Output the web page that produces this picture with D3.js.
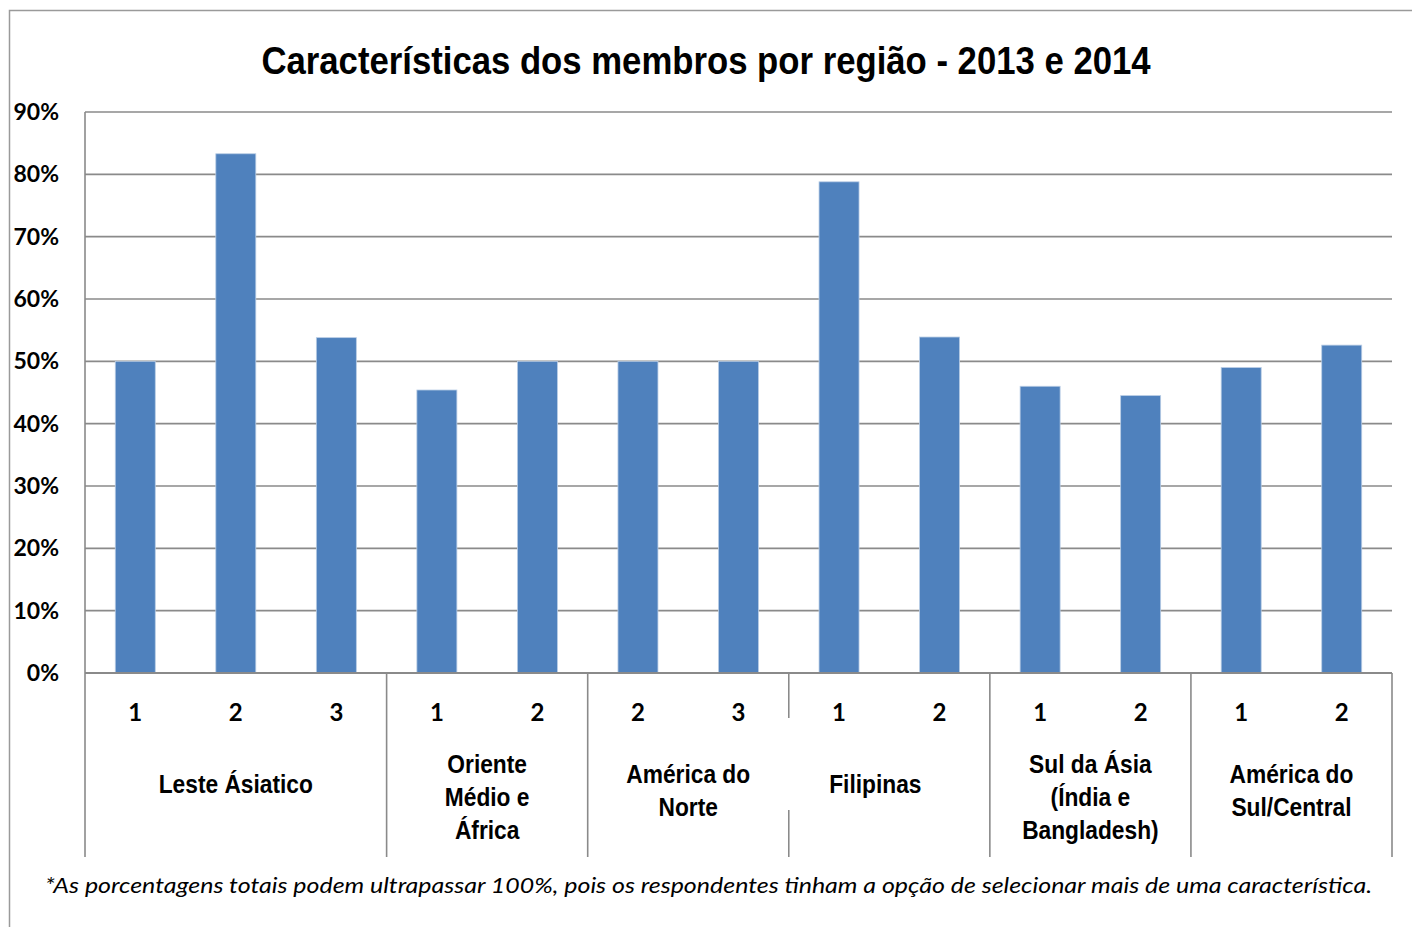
<!DOCTYPE html>
<html>
<head>
<meta charset="utf-8">
<script src="https://cdn.jsdelivr.net/npm/d3@7"></script>
<style>
  html, body { margin: 0; padding: 0; background: #fff; }
  svg { display: block; }
  .narrow { font-family: "Liberation Sans Narrow", "Arial Narrow", "Liberation Sans", sans-serif; font-weight: bold; }
  .cal { font-family: Lato, "Open Sans", sans-serif; font-weight: bold; }
</style>
</head>
<body>
<svg id="chart" width="1412" height="927"></svg>
<script>
// ---- data ----
const title = "Características dos membros por região - 2013 e 2014";
const categories = ["1", "2", "3", "1", "2", "2", "3", "1", "2", "1", "2", "1", "2"];
const values = [50.0, 83.3, 53.8, 45.4, 50.0, 50.0, 50.0, 78.8, 53.9, 46.0, 44.5, 49.0, 52.6];
const groupLabels = [
  ["Leste Ásiatico"],
  ["Oriente", "Médio e", "África"],
  ["América do", "Norte"],
  ["Filipinas"],
  ["Sul da Ásia", "(Índia e", "Bangladesh)"],
  ["América do", "Sul/Central"]
];
const groupSizes = [3, 2, 2, 2, 2, 2];
const yTicks = [0, 10, 20, 30, 40, 50, 60, 70, 80, 90];
const footnote = "*As porcentagens totais podem ultrapassar 100%, pois os respondentes tinham a opção de selecionar mais de uma característica.";

// ---- layout ----
const svg = d3.select("#chart");
const L = 85, R = 1392, T = 112, B = 673, axisBottom = 857;
const gridColor = "#8a8a8a";

const x = d3.scaleBand()
  .domain(d3.range(categories.length))
  .range([L, R])
  .paddingInner(1 - 40 / ((R - L) / categories.length))
  .paddingOuter((1 - 40 / ((R - L) / categories.length)) / 2);
const y = d3.scaleLinear().domain([0, 90]).range([B, T]);

// outer frame
svg.append("path")
  .attr("d", "M9.5,927 L9.5,10.5 L1412,10.5")
  .attr("fill", "none").attr("stroke", "#9a9a9a").attr("stroke-width", 1.5);

// title (condensed)
svg.append("g").attr("transform", "translate(706,74) scale(0.89,1)")
  .append("text").attr("class", "narrow")
  .attr("x", 0).attr("y", 0)
  .attr("text-anchor", "middle")
  .attr("font-size", 39)
  .attr("fill", "#000")
  .text(title);

// gridlines
svg.append("g").selectAll("line").data(yTicks).join("line")
  .attr("x1", L).attr("x2", R)
  .attr("y1", d => y(d)).attr("y2", d => y(d))
  .attr("stroke", gridColor).attr("stroke-width", 1.6);

// y axis line
svg.append("line").attr("x1", L).attr("x2", L).attr("y1", T).attr("y2", B)
  .attr("stroke", gridColor).attr("stroke-width", 1.6);

// y tick labels
svg.append("g").selectAll("text").data(yTicks).join("text")
  .attr("class", "cal")
  .attr("x", 59).attr("y", d => y(d) + 8)
  .attr("text-anchor", "end")
  .attr("font-size", 23)
  .attr("fill", "#000")
  .text(d => d + "%");

// bars
svg.append("g").selectAll("rect").data(values).join("rect")
  .attr("x", (d, i) => x(i))
  .attr("y", d => y(d))
  .attr("width", x.bandwidth())
  .attr("height", d => y(0) - y(d))
  .attr("fill", "#4F81BD")
  .attr("stroke", "#B9CDE5").attr("stroke-width", 0.8);

// baseline (x axis)
svg.append("line").attr("x1", L).attr("x2", R).attr("y1", B).attr("y2", B)
  .attr("stroke", gridColor).attr("stroke-width", 1.8);

// category labels
svg.append("g").selectAll("text").data(categories).join("text")
  .attr("class", "cal")
  .attr("x", (d, i) => x(i) + x.bandwidth() / 2)
  .attr("y", 721)
  .attr("text-anchor", "middle")
  .attr("font-size", 24)
  .attr("fill", "#000")
  .text(d => d);

// group separators
const step = x.step();
let acc = 0;
const bounds = [0];
groupSizes.forEach(s => { acc += s; bounds.push(acc); });
const sepG = svg.append("g");
bounds.forEach((b, k) => {
  const xx = L + b * step;
  if (k === 3) {
    sepG.append("line").attr("x1", xx).attr("x2", xx).attr("y1", B).attr("y2", 718)
      .attr("stroke", gridColor).attr("stroke-width", 1.6);
    sepG.append("line").attr("x1", xx).attr("x2", xx).attr("y1", 810).attr("y2", axisBottom)
      .attr("stroke", gridColor).attr("stroke-width", 1.6);
  } else {
    sepG.append("line").attr("x1", xx).attr("x2", xx).attr("y1", B).attr("y2", axisBottom)
      .attr("stroke", gridColor).attr("stroke-width", 1.6);
  }
});

// group labels (condensed)
const glG = svg.append("g");
groupLabels.forEach((lines, k) => {
  let cx = L + (bounds[k] + bounds[k + 1]) / 2 * step;
  if (k === 3) cx -= 14;
  const n = lines.length;
  const first = 793 - (n - 1) * 10;
  const t = glG.append("g").attr("transform", `translate(${cx},0) scale(0.91,1)`)
    .append("text").attr("class", "narrow")
    .attr("text-anchor", "middle")
    .attr("font-size", 25)
    .attr("fill", "#000");
  lines.forEach((ln, j) => {
    t.append("tspan").attr("x", 0).attr("y", first + j * 33).text(ln);
  });
});

// footnote
svg.append("text")
  .attr("x", 45).attr("y", 893)
  .attr("font-family", "Lato, 'Open Sans', sans-serif")
  .attr("font-style", "italic")
  .attr("font-size", 21)
  .attr("fill", "#000")
  .attr("textLength", 1327)
  .attr("lengthAdjust", "spacingAndGlyphs")
  .text(footnote);
</script>
</body>
</html>
